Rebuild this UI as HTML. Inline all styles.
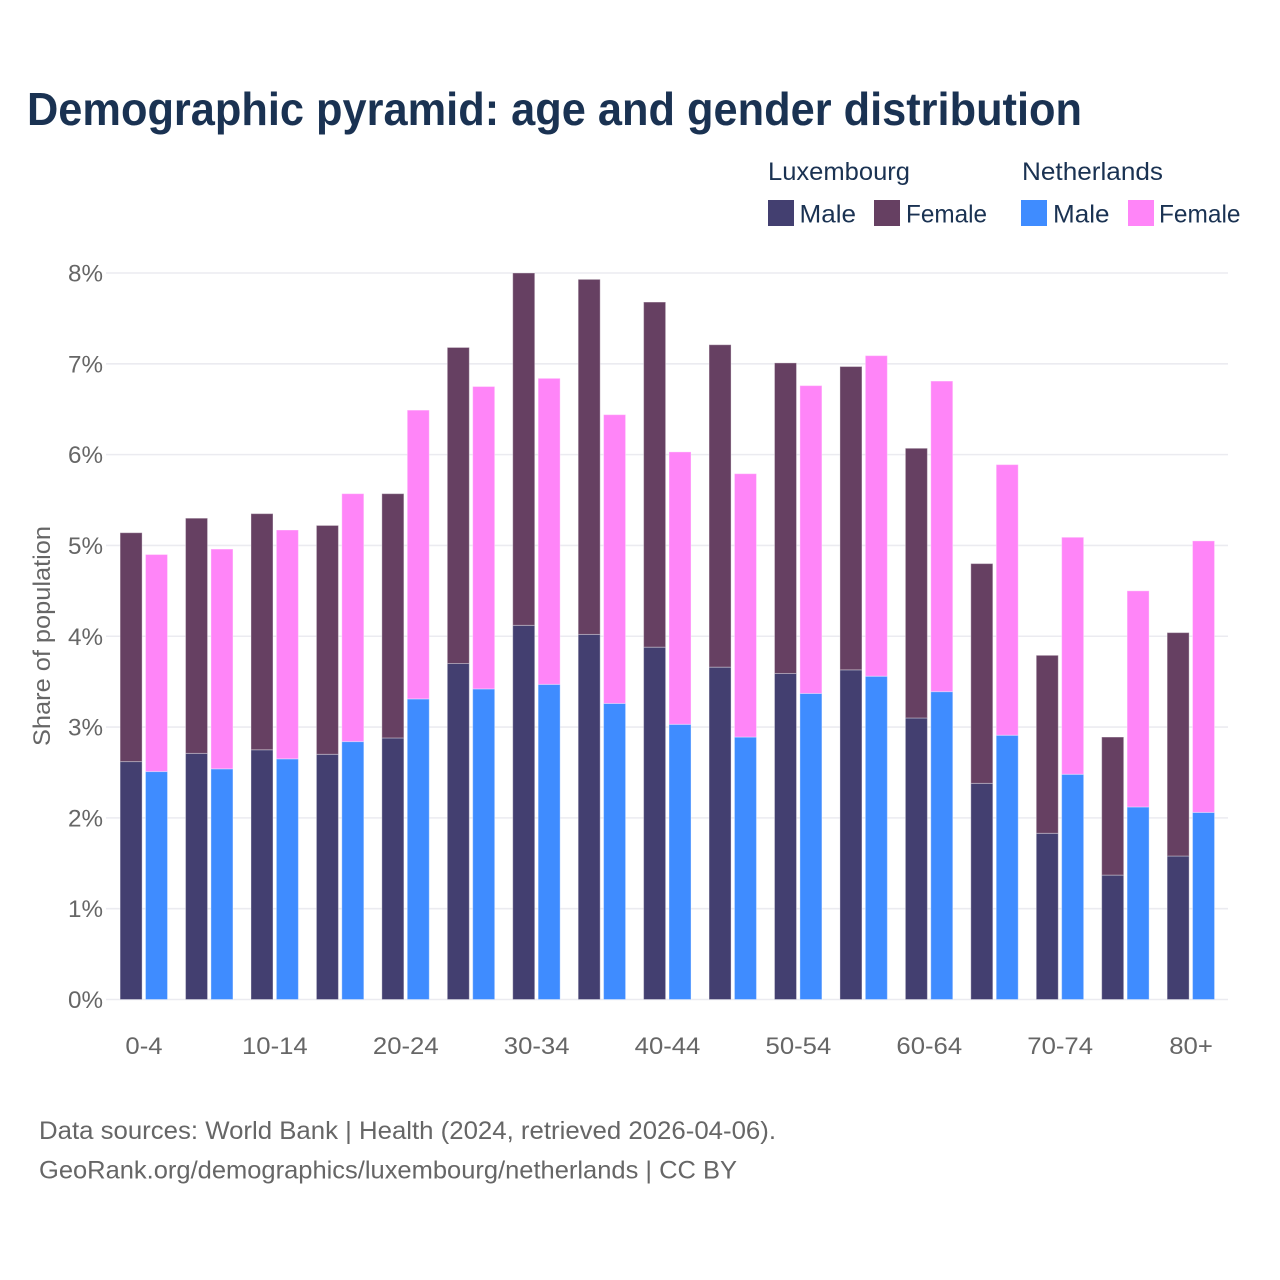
<!DOCTYPE html>
<html lang="en">
<head>
<meta charset="utf-8">
<title>Demographic pyramid: age and gender distribution</title>
<style>
html,body{margin:0;padding:0;background:#fff;width:1280px;height:1280px;overflow:hidden}
svg{display:block}
text{font-family:"Liberation Sans",sans-serif}
</style>
</head>
<body>
<svg id="chart" xmlns="http://www.w3.org/2000/svg" width="1280" height="1280" viewBox="0 0 1280 1280">
  <rect width="1280" height="1280" fill="#ffffff"/>
  <text x="27" y="125" font-size="46" font-weight="700" fill="#1a3252" textLength="1055" lengthAdjust="spacingAndGlyphs">Demographic pyramid: age and gender distribution</text>

  <g font-size="25" fill="#1a3252">
    <text x="768" y="180" textLength="142" lengthAdjust="spacingAndGlyphs">Luxembourg</text>
    <text x="1022" y="180" textLength="141" lengthAdjust="spacingAndGlyphs">Netherlands</text>
    <rect x="768" y="200" width="26" height="26" fill="#433f70"/>
    <text x="799.5" y="222.5" textLength="56.5" lengthAdjust="spacingAndGlyphs">Male</text>
    <rect x="874" y="200" width="26" height="26" fill="#664062"/>
    <text x="906" y="222.5" textLength="81" lengthAdjust="spacingAndGlyphs">Female</text>
    <rect x="1021" y="200" width="26" height="26" fill="#3f8cff"/>
    <text x="1053" y="222.5" textLength="56.5" lengthAdjust="spacingAndGlyphs">Male</text>
    <rect x="1128" y="200" width="26" height="26" fill="#ff85f8"/>
    <text x="1159" y="222.5" textLength="81.5" lengthAdjust="spacingAndGlyphs">Female</text>
  </g>

  <g id="grid"></g>
  <g id="ylabels"></g>
  <g id="bars"></g>
  <g id="xlabels"></g>

  <text transform="translate(50 636) rotate(-90)" text-anchor="middle" font-size="24" fill="#666666" textLength="220" lengthAdjust="spacingAndGlyphs">Share of population</text>

  <g font-size="25" fill="#666666">
    <text x="39" y="1139" textLength="737" lengthAdjust="spacingAndGlyphs">Data sources: World Bank | Health (2024, retrieved 2026-04-06).</text>
    <text x="39" y="1178.5" textLength="698" lengthAdjust="spacingAndGlyphs">GeoRank.org/demographics/luxembourg/netherlands | CC BY</text>
  </g>
</svg>
<script>
const categories = ["0-4","5-9","10-14","15-19","20-24","25-29","30-34","35-39","40-44","45-49","50-54","55-59","60-64","65-69","70-74","75-79","80+"];
const yTicks = [0,1,2,3,4,5,6,7,8];
const luxMale = [2.62,2.71,2.75,2.70,2.88,3.70,4.12,4.02,3.88,3.66,3.59,3.63,3.10,2.38,1.83,1.37,1.58];
const luxFemale = [2.52,2.59,2.60,2.52,2.69,3.48,3.88,3.91,3.80,3.55,3.42,3.34,2.97,2.42,1.96,1.52,2.46];
const nlMale = [2.51,2.54,2.65,2.84,3.31,3.42,3.47,3.26,3.03,2.89,3.37,3.56,3.39,2.91,2.48,2.12,2.06];
const nlFemale = [2.39,2.42,2.52,2.73,3.18,3.33,3.37,3.18,3.00,2.90,3.39,3.53,3.42,2.98,2.61,2.38,2.99];

const NS = "http://www.w3.org/2000/svg";
const plotLeft = 106, plotRight = 1228, baseY = 999.5, topY = 273, yMax = 8;
const firstCenter = 143.8, step = 65.44, barW = 23, barGap = 1.2;
function yScale(v){ return baseY - (v / yMax) * (baseY - topY); }
function xScale(i){ return firstCenter + i * step; }

const gridG = document.getElementById("grid");
const yLabG = document.getElementById("ylabels");
yTicks.forEach(function(t){
  const line = document.createElementNS(NS,"line");
  
  
  line.setAttribute("x1", plotLeft);
  line.setAttribute("x2", plotRight);
  line.setAttribute("y1", yScale(t));
  line.setAttribute("y2", yScale(t));
  line.setAttribute("stroke", "#ebebf0");
  line.setAttribute("stroke-width", "1.6");
  gridG.appendChild(line);
  const lab = document.createElementNS(NS,"text");
  
  
  lab.setAttribute("x", 103);
  lab.setAttribute("y", yScale(t) + 8.5);
  lab.setAttribute("text-anchor", "end");
  lab.setAttribute("font-size", "24");
  lab.setAttribute("fill", "#666666");
  lab.setAttribute("textLength", "35");
  lab.setAttribute("lengthAdjust", "spacingAndGlyphs");
  lab.textContent = t + "%";
  yLabG.appendChild(lab);
});

function drawBar(parent, x, lo, hi, color, name){
  const r = document.createElementNS(NS,"rect");
  
  
  r.setAttribute("x", x + 0.5);
  r.setAttribute("width", barW - 1);
  r.setAttribute("y", yScale(hi));
  r.setAttribute("height", yScale(lo) - yScale(hi));
  r.setAttribute("fill", color);
  r.setAttribute("stroke", "#ffffff");
  r.setAttribute("stroke-opacity", "0.35");
  r.setAttribute("stroke-width", "1");
  parent.appendChild(r);
}

const barsG = document.getElementById("bars");
const xLabG = document.getElementById("xlabels");
categories.forEach(function(cat, i){
  const c = xScale(i);
  const group = document.createElementNS(NS,"g");
  
  
  const lx = c - barW - barGap;
  const nx = c + barGap;
  drawBar(group, lx, 0, luxMale[i], "#433f70", "bar-luxembourg-male-" + cat);
  drawBar(group, lx, luxMale[i], luxMale[i] + luxFemale[i], "#664062", "bar-luxembourg-female-" + cat);
  drawBar(group, nx, 0, nlMale[i], "#3f8cff", "bar-netherlands-male-" + cat);
  drawBar(group, nx, nlMale[i], nlMale[i] + nlFemale[i], "#ff85f8", "bar-netherlands-female-" + cat);
  barsG.appendChild(group);
  if (i % 2 === 0) {
    const lab = document.createElementNS(NS,"text");
    
    
    lab.setAttribute("x", c + 0.2);
    lab.setAttribute("y", 1054);
    lab.setAttribute("text-anchor", "middle");
    lab.setAttribute("font-size", "24");
    lab.setAttribute("fill", "#666666");
    lab.textContent = cat;
    xLabG.appendChild(lab);
    lab.setAttribute("textLength", (lab.getComputedTextLength() * 1.07).toFixed(1));
    lab.setAttribute("lengthAdjust", "spacingAndGlyphs");
  }
});
</script>
</body>
</html>
